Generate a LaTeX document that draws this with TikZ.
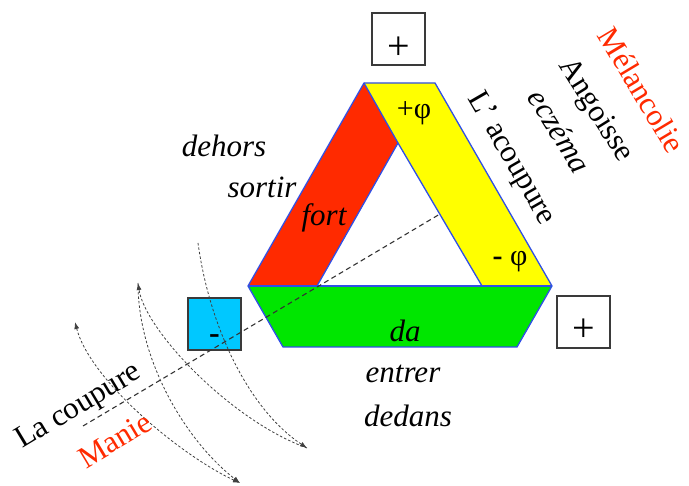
\documentclass[tikz,border=0pt]{standalone}
\usepackage{fontspec}
\setmainfont{Liberation Serif}
\usetikzlibrary{arrows.meta}
\definecolor{bandred}{HTML}{FF2A00}
\definecolor{bandyel}{HTML}{FFFF00}
\definecolor{bandgrn}{HTML}{00E600}
\definecolor{bandedge}{HTML}{2F4FE6}
\definecolor{minusfill}{HTML}{00C8FF}
\definecolor{boxedge}{HTML}{3A3A3A}
\definecolor{wordred}{HTML}{FF2A00}
\tikzset{
  band/.style={draw=bandedge, line width=1.3pt, line join=round},
  signbox/.style={draw=boxedge, line width=1.1pt, minimum width=53pt, minimum height=52pt, inner sep=0pt},
  sign/.style={font=\fontsize{40}{40}\selectfont, inner sep=0pt},
  word/.style={font=\fontsize{31}{31}\selectfont\itshape, inner sep=0pt},
  wordup/.style={font=\fontsize{31}{31}\selectfont, inner sep=0pt},
  symp/.style={wordup, text=wordred},
  phi/.style={font=\fontsize{30}{30}\selectfont, inner sep=0pt},
  cut/.style={draw=black!80, line width=1.1pt, dash pattern=on 5pt off 3.5pt},
  swing/.style={draw=black!75, line width=0.8pt, dash pattern=on 2.5pt off 2pt},
  tip/.style={-{Latex[length=7pt,width=5pt]}},
}
\begin{document}
\begin{tikzpicture}[x=1pt,y=-1pt]
  \useasboundingbox (0,0) rectangle (689,486);
  % corners of the three bands
  \coordinate (top l) at (364,83);
  \coordinate (top r) at (435,83);
  \coordinate (inner) at (398,143);
  \coordinate (left o) at (248,286);
  \coordinate (left i) at (317,286);
  \coordinate (right i) at (482,286);
  \coordinate (right o) at (552,286);
  \coordinate (bot l) at (283,347);
  \coordinate (bot r) at (517,347);
  \fill[bandred] (top l) -- (left o) -- (left i) -- (inner) -- cycle;
  \fill[bandyel] (top l) -- (top r) -- (right o) -- (right i) -- (inner) -- cycle;
  \fill[bandgrn] (left o) -- (right o) -- (bot r) -- (bot l) -- cycle;
  \draw[band] (top l) -- (top r) -- (right o) -- (bot r) -- (bot l) -- (left o) -- cycle;
  \draw[band] (top l) -- (inner) -- (left i);
  \draw[band] (inner) -- (right i);
  \draw[band] (left o) -- (right o);
  % sign boxes
  \node[signbox] (topbox) at (398.5,39) {};
  \node[sign] (topplus) at ([yshift=-9pt]topbox.center) {+};
  \node[signbox] (rightbox) at (583.5,322) {};
  \node[sign] (rightplus) at ([yshift=-8pt]rightbox.center) {+};
  \node[signbox, fill=minusfill] (leftbox) at (214.5,324) {};
  \node[font=\fontsize{32}{32}\selectfont\bfseries, inner sep=0pt] (leftminus) at ([yshift=-15pt]leftbox.center) {-};
  % the cut
  \coordinate (cut a) at (83,426);
  \coordinate (cut b) at (440,214);
  \draw[cut] (cut a) -- (cut b);
  % swinging arrows
  \coordinate (sw a) at (198,243);
  \coordinate (sw b) at (138,283);
  \coordinate (sw d) at (75,322);
  \coordinate (end a) at (307,448);
  \coordinate (end c) at (240,483);
  \draw[swing, tip] (sw a) .. controls (210,330) and (250,410) .. (end a);
  \draw[swing, tip] (end a) .. controls (230,420) and (145,330) .. (sw b);
  \draw[swing, tip] (sw b) .. controls (138,360) and (185,440) .. (end c);
  \draw[swing, {Latex[length=7pt,width=5pt]}-{Latex[length=7pt,width=5pt]}] (sw d) .. controls (90,380) and (180,455) .. (end c);
  % words
  \node[word] (dehors) at (224,146) {dehors};
  \node[word] (sortir) at (262,187) {sortir};
  \node[word] (fort) at (324,218) {fort};
  \node[phi] (plusphi) at (414,113) {+φ};
  \node[phi] (minusphi) at (510,262) {\textbf{-} φ};
  \node[wordup, rotate=-60] (acoupure) at (511,159) {L’ acoupure};
  \node[wordup, rotate=-58] (angoisse) at (595,111) {Angoisse};
  \node[word, rotate=-58] (eczema) at (560,131) {eczéma};
  \node[symp, rotate=-59] (melancolie) at (642,90) {Mélancolie};
  \node[word] (da) at (405,331) {da};
  \node[word] (entrer) at (403,374) {entrer};
  \node[word] (dedans) at (408,416) {dedans};
  \node[wordup, rotate=31] (coupure) at (79,407) {La coupure};
  \node[symp, rotate=31] (manie) at (115,440) {Manie};
\end{tikzpicture}
\end{document}
